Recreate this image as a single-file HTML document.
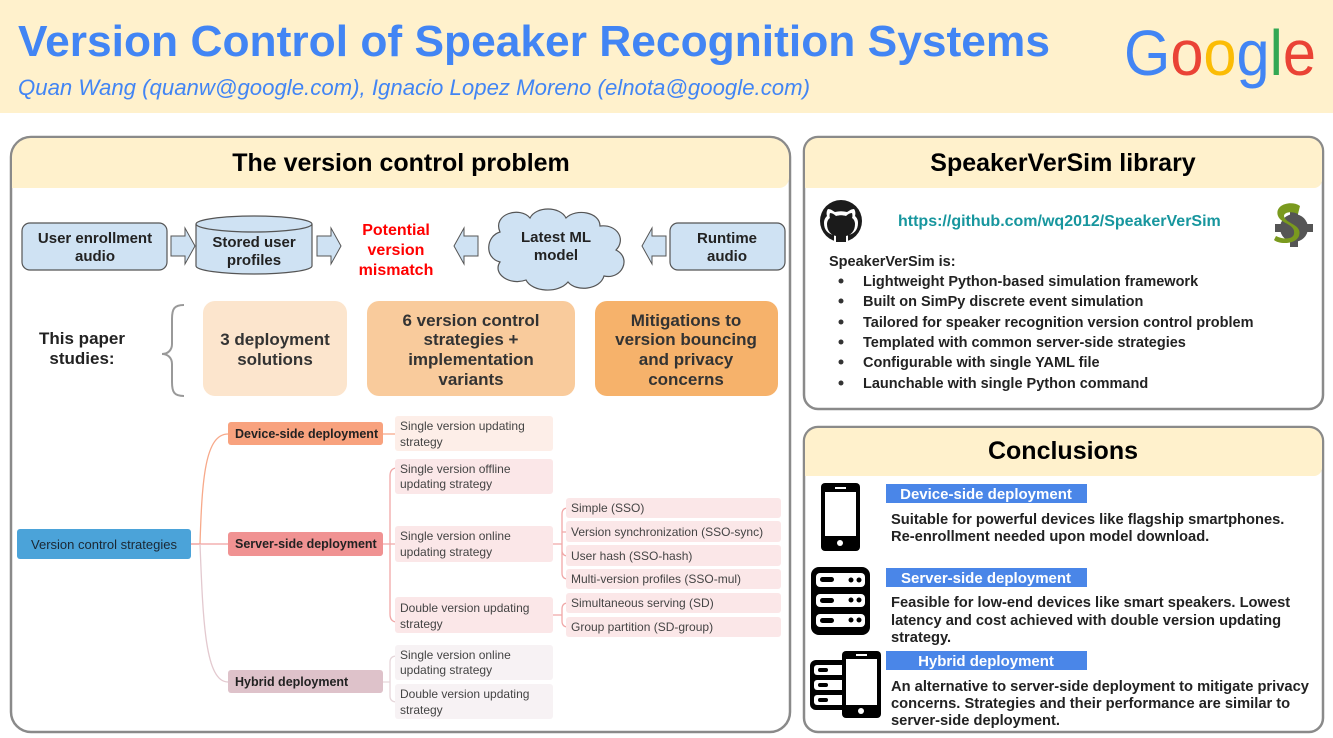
<!DOCTYPE html>
<html><head><meta charset="utf-8"><style>
html,body{margin:0;padding:0;background:#fff;width:1333px;height:738px;overflow:hidden}
svg{display:block}
text{font-family:"Liberation Sans",Arial,sans-serif}
.b{font-weight:bold}
</style></head><body>
<svg width="1333" height="738" viewBox="0 0 1333 738" xmlns="http://www.w3.org/2000/svg">
<!-- header -->
<rect x="0" y="0" width="1333" height="113" fill="#fff1cc"/>
<text x="18" y="56" class="b" font-size="44" fill="#4285f4" textLength="1032" lengthAdjust="spacingAndGlyphs">Version Control of Speaker Recognition Systems</text>
<text x="18" y="95" font-size="22" font-style="italic" fill="#4285f4" textLength="792" lengthAdjust="spacingAndGlyphs">Quan Wang (quanw@google.com), Ignacio Lopez Moreno (elnota@google.com)</text>
<text x="1124" y="75" font-size="64" textLength="192" lengthAdjust="spacingAndGlyphs"><tspan fill="#4285f4">G</tspan><tspan fill="#ea4335">o</tspan><tspan fill="#fbbc05">o</tspan><tspan fill="#4285f4">g</tspan><tspan fill="#34a853">l</tspan><tspan fill="#ea4335">e</tspan></text>

<!-- left panel -->
<rect x="11" y="137" width="779" height="595" rx="20" fill="#fff" stroke="#8a8a8a" stroke-width="2.5"/>
<path d="M12 188 V157 a19 19 0 0 1 19 -19 H770 a19 19 0 0 1 19 19 V178 a10 10 0 0 1 -10 10 Z" fill="#fff1cc"/>
<text x="401" y="171" class="b" font-size="25" text-anchor="middle">The version control problem</text>

<!-- flow row -->
<rect x="22" y="223" width="145" height="47" rx="8" fill="#cfe2f3" stroke="#555" stroke-width="1.2"/>
<text x="95" y="243" class="b" font-size="15" fill="#222" text-anchor="middle">User enrollment</text>
<text x="95" y="261" class="b" font-size="15" fill="#222" text-anchor="middle">audio</text>
<path d="M171 236 h14 v-8 l10 18 l-10 18 v-8 h-14 Z" fill="#cfe2f3" stroke="#555" stroke-width="1"/>
<path d="M196 224 V266 a58 8 0 0 0 116 0 V224" fill="#cfe2f3" stroke="#555" stroke-width="1.2"/>
<ellipse cx="254" cy="224" rx="58" ry="8" fill="#cfe2f3" stroke="#555" stroke-width="1.2"/>
<text x="254" y="247" class="b" font-size="15" fill="#222" text-anchor="middle">Stored user</text>
<text x="254" y="265" class="b" font-size="15" fill="#222" text-anchor="middle">profiles</text>
<path d="M317 236 h14 v-8 l10 18 l-10 18 v-8 h-14 Z" fill="#cfe2f3" stroke="#555" stroke-width="1"/>
<text x="396" y="235" class="b" font-size="16" fill="#ff0000" text-anchor="middle">Potential</text>
<text x="396" y="255" class="b" font-size="16" fill="#ff0000" text-anchor="middle">version</text>
<text x="396" y="275" class="b" font-size="16" fill="#ff0000" text-anchor="middle">mismatch</text>
<path d="M478 236 h-14 v-8 l-10 18 l10 18 v-8 h14 Z" fill="#cfe2f3" stroke="#555" stroke-width="1"/>
<path d="M500 232 c-8 -18 20 -26 30 -14 c6 -12 30 -12 36 0 c10 -10 34 -6 34 8 c18 -2 26 14 16 24 c16 8 6 30 -12 26 c-4 14 -28 16 -36 6 c-10 12 -36 10 -42 -2 c-16 6 -34 -6 -26 -18 c-16 -4 -14 -26 0 -30 Z" fill="#cfe2f3" stroke="#555" stroke-width="1.2"/>
<text x="556" y="242" class="b" font-size="15" fill="#222" text-anchor="middle">Latest ML</text>
<text x="556" y="260" class="b" font-size="15" fill="#222" text-anchor="middle">model</text>
<path d="M666 236 h-14 v-8 l-10 18 l10 18 v-8 h14 Z" fill="#cfe2f3" stroke="#555" stroke-width="1"/>
<rect x="670" y="223" width="115" height="47" rx="8" fill="#cfe2f3" stroke="#555" stroke-width="1.2"/>
<text x="727" y="243" class="b" font-size="15" fill="#222" text-anchor="middle">Runtime</text>
<text x="727" y="261" class="b" font-size="15" fill="#222" text-anchor="middle">audio</text>

<!-- paper studies -->
<text x="82" y="344" class="b" font-size="17" fill="#222" text-anchor="middle">This paper</text>
<text x="82" y="364" class="b" font-size="17" fill="#222" text-anchor="middle">studies:</text>
<path d="M184 305 c-10 0 -12 4 -12 14 v25 c0 6 -4 10 -10 10 c6 0 10 4 10 10 v18 c0 10 2 14 12 14" fill="none" stroke="#999" stroke-width="2"/>
<rect x="203" y="301" width="144" height="95" rx="12" fill="#fce5cd"/>
<text x="275" y="345" class="b" font-size="17" fill="#333" text-anchor="middle">3 deployment</text>
<text x="275" y="365" class="b" font-size="17" fill="#333" text-anchor="middle">solutions</text>
<rect x="367" y="301" width="208" height="95" rx="12" fill="#f9cb9c"/>
<text x="471" y="326" class="b" font-size="17" fill="#333" text-anchor="middle">6 version control</text>
<text x="471" y="345" class="b" font-size="17" fill="#333" text-anchor="middle">strategies +</text>
<text x="471" y="365" class="b" font-size="17" fill="#333" text-anchor="middle">implementation</text>
<text x="471" y="385" class="b" font-size="17" fill="#333" text-anchor="middle">variants</text>
<rect x="595" y="301" width="183" height="95" rx="12" fill="#f6b26b"/>
<text x="686" y="326" class="b" font-size="17" fill="#333" text-anchor="middle">Mitigations to</text>
<text x="686" y="345" class="b" font-size="17" fill="#333" text-anchor="middle">version bouncing</text>
<text x="686" y="365" class="b" font-size="17" fill="#333" text-anchor="middle">and privacy</text>
<text x="686" y="385" class="b" font-size="17" fill="#333" text-anchor="middle">concerns</text>

<!-- tree connectors -->
<g fill="none" stroke-width="1.3">
<path d="M191 544 H200 C202 480 205 434 228 434" stroke="#f7a98a"/>
<path d="M191 544 H228" stroke="#f0a0a0"/>
<path d="M200 544 C203 620 205 682 228 682" stroke="#e3c9cf"/>
<path d="M383 434 H395" stroke="#f7a98a"/>
<path d="M383 544 H390 M390 544 V476 Q390 468 397 468 M390 544 V614 Q390 622 397 622 M390 544 H395" stroke="#f0a8a8"/>
<path d="M383 682 H390 V662 Q390 656 397 656 M390 682 V696 Q390 702 397 702" stroke="#e6d6da"/>
<path d="M553 544 H562 M562 544 V514 Q562 508 568 508 M562 532 H566 M562 544 V550 Q562 556 568 556 M562 544 V573 Q562 579 568 579" stroke="#f0a8a8"/>
<path d="M553 615 H562 V609 Q562 603 568 603 M562 615 V621 Q562 627 568 627" stroke="#f0a8a8"/>
</g>
<!-- tree nodes -->
<rect x="17" y="529" width="174" height="30" rx="3" fill="#4ba3d9"/>
<text x="104" y="549" font-size="13" fill="#1b2733" text-anchor="middle">Version control strategies</text>
<rect x="228" y="422" width="155" height="23" rx="3" fill="#f8a27e"/>
<text x="235" y="438" class="b" font-size="12.5" fill="#222">Device-side deployment</text>
<rect x="228" y="532" width="155" height="24" rx="3" fill="#f09292"/>
<text x="235" y="548" class="b" font-size="12.5" fill="#222">Server-side deployment</text>
<rect x="228" y="670" width="155" height="23" rx="3" fill="#dec2ca"/>
<text x="235" y="686" class="b" font-size="12.5" fill="#222">Hybrid deployment</text>

<g font-size="12" fill="#444">
<rect x="395" y="416" width="158" height="35" rx="3" fill="#fdeee8"/>
<text x="400" y="430">Single version updating</text><text x="400" y="446">strategy</text>
<rect x="395" y="459" width="158" height="35" rx="3" fill="#fbe7e8"/>
<text x="400" y="473">Single version offline</text><text x="400" y="488">updating strategy</text>
<rect x="395" y="526" width="158" height="36" rx="3" fill="#fbe7e8"/>
<text x="400" y="540">Single version online</text><text x="400" y="556">updating strategy</text>
<rect x="395" y="597" width="158" height="36" rx="3" fill="#fbe7e8"/>
<text x="400" y="612">Double version updating</text><text x="400" y="628">strategy</text>
<rect x="395" y="645" width="158" height="35" rx="3" fill="#f7f2f4"/>
<text x="400" y="659">Single version online</text><text x="400" y="674">updating strategy</text>
<rect x="395" y="684" width="158" height="35" rx="3" fill="#f7f2f4"/>
<text x="400" y="698">Double version updating</text><text x="400" y="714">strategy</text>
<rect x="566" y="498" width="215" height="20" rx="3" fill="#fbe7e8"/><text x="571" y="512">Simple (SSO)</text>
<rect x="566" y="521" width="215" height="21" rx="3" fill="#fbe7e8"/><text x="571" y="536">Version synchronization (SSO-sync)</text>
<rect x="566" y="545" width="215" height="21" rx="3" fill="#fbe7e8"/><text x="571" y="560">User hash (SSO-hash)</text>
<rect x="566" y="569" width="215" height="20" rx="3" fill="#fbe7e8"/><text x="571" y="583">Multi-version profiles (SSO-mul)</text>
<rect x="566" y="593" width="215" height="20" rx="3" fill="#fbe7e8"/><text x="571" y="607">Simultaneous serving (SD)</text>
<rect x="566" y="617" width="215" height="20" rx="3" fill="#fbe7e8"/><text x="571" y="631">Group partition (SD-group)</text>
</g>

<!-- right top panel -->
<rect x="804" y="137" width="519" height="272" rx="14" fill="#fff" stroke="#8a8a8a" stroke-width="2.5"/>
<path d="M805 188 V151 a13 13 0 0 1 13 -13 H1309 a13 13 0 0 1 13 13 V180 a8 8 0 0 1 -8 8 Z" fill="#fff1cc"/>
<text x="1063" y="171" class="b" font-size="25" text-anchor="middle">SpeakerVerSim library</text>
<circle cx="841" cy="221" r="21" fill="#1b1b1b"/>
<path d="M834 242 v-7 c-6 -1 -10 -5 -10 -12 c0 -3 1 -5 3 -7 c-1 -3 0 -6 1 -7 c3 0 5 2 7 3 c4 -1 8 -1 12 0 c2 -1 4 -3 7 -3 c1 1 2 4 1 7 c2 2 3 4 3 7 c0 7 -4 11 -10 12 v7 Z" fill="#fff"/>
<path d="M836 242 v-6 c-5 -1 -9 -5 -9 -12 c0 -2 1 -5 3 -6 c-1 -2 0 -5 0 -5 c2 0 4 1 6 3 c4 -1 6 -1 10 0 c2 -2 4 -3 6 -3 c0 0 1 3 0 5 c2 1 3 4 3 6 c0 7 -4 11 -9 12 v6 Z" fill="#1b1b1b"/>
<text x="898" y="226" class="b" font-size="16" fill="#17969e">https://github.com/wq2012/SpeakerVerSim</text>
<circle cx="1294" cy="228" r="14" fill="#555"/>
<g fill="#555"><rect x="1290" y="209" width="8" height="38"/><rect x="1275" y="224" width="38" height="8"/></g>
<path d="M1300 206 c-8 -6 -26 -2 -22 10 c3 8 18 8 16 18 c-1 5 -10 6 -18 2 l-2 4 c6 5 22 4 25 -4 c4 -12 -14 -12 -15 -20 c0 -4 8 -5 14 -2 Z" fill="#7a9a1e"/>
<g font-size="14.5" fill="#222" font-weight="bold">
<text x="829" y="266">SpeakerVerSim is:</text>
<text x="863" y="286">Lightweight Python-based simulation framework</text>
<text x="863" y="306">Built on SimPy discrete event simulation</text>
<text x="863" y="327">Tailored for speaker recognition version control problem</text>
<text x="863" y="347">Templated with common server-side strategies</text>
<text x="863" y="367">Configurable with single YAML file</text>
<text x="863" y="388">Launchable with single Python command</text>
</g>
<g fill="#333"><circle cx="841" cy="281" r="2.5"/><circle cx="841" cy="301" r="2.5"/><circle cx="841" cy="322" r="2.5"/><circle cx="841" cy="342" r="2.5"/><circle cx="841" cy="362" r="2.5"/><circle cx="841" cy="383" r="2.5"/></g>

<!-- conclusions panel -->
<rect x="804" y="427" width="519" height="305" rx="14" fill="#fff" stroke="#8a8a8a" stroke-width="2.5"/>
<path d="M805 476 V441 a13 13 0 0 1 13 -13 H1309 a13 13 0 0 1 13 13 V468 a8 8 0 0 1 -8 8 Z" fill="#fff1cc"/>
<text x="1063" y="459" class="b" font-size="25" text-anchor="middle">Conclusions</text>

<rect x="886" y="484" width="201" height="19" fill="#4a86e8"/>
<text x="986" y="499" class="b" font-size="15" fill="#fff" text-anchor="middle">Device-side deployment</text>
<rect x="886" y="568" width="201" height="19" fill="#4a86e8"/>
<text x="986" y="583" class="b" font-size="15" fill="#fff" text-anchor="middle">Server-side deployment</text>
<rect x="886" y="651" width="201" height="19" fill="#4a86e8"/>
<text x="986" y="666" class="b" font-size="15" fill="#fff" text-anchor="middle">Hybrid deployment</text>
<g font-size="14.7" font-weight="bold" fill="#222">
<text x="891" y="524">Suitable for powerful devices like flagship smartphones.</text>
<text x="891" y="541">Re-enrollment needed upon model download.</text>
<text x="891" y="607">Feasible for low-end devices like smart speakers. Lowest</text>
<text x="891" y="625">latency and cost achieved with double version updating</text>
<text x="891" y="642">strategy.</text>
<text x="891" y="691">An alternative to server-side deployment to mitigate privacy</text>
<text x="891" y="708">concerns. Strategies and their performance are similar to</text>
<text x="891" y="725">server-side deployment.</text>
</g>
<!-- phone icon -->
<rect x="821" y="483" width="39" height="68" rx="4" fill="#000"/>
<rect x="825" y="492" width="31" height="44" fill="#fff"/>
<rect x="835" y="487" width="11" height="2" fill="#fff"/>
<circle cx="840" cy="543" r="3" fill="#fff"/>
<!-- server icon -->
<rect x="811" y="567" width="59" height="68" rx="8" fill="#000"/>
<rect x="816" y="573" width="49" height="14" rx="4" fill="#fff"/>
<rect x="816" y="594" width="49" height="13" rx="4" fill="#fff"/>
<rect x="816" y="614" width="49" height="13" rx="4" fill="#fff"/>
<g fill="#000"><rect x="820" y="577" width="14" height="5" rx="2.5"/><rect x="820" y="598" width="14" height="5" rx="2.5"/><rect x="820" y="618" width="14" height="5" rx="2.5"/>
<circle cx="851" cy="580" r="2.5"/><circle cx="859" cy="580" r="2.5"/><circle cx="851" cy="600" r="2.5"/><circle cx="859" cy="600" r="2.5"/><circle cx="851" cy="620" r="2.5"/><circle cx="859" cy="620" r="2.5"/></g>
<!-- hybrid icon -->
<rect x="810" y="660" width="40" height="50" rx="6" fill="#000"/>
<rect x="814" y="665" width="32" height="10" rx="3" fill="#fff"/>
<rect x="814" y="680" width="32" height="10" rx="3" fill="#fff"/>
<rect x="814" y="695" width="32" height="10" rx="3" fill="#fff"/>
<g fill="#000"><rect x="818" y="668" width="10" height="4" rx="2"/><rect x="818" y="683" width="10" height="4" rx="2"/><rect x="818" y="698" width="10" height="4" rx="2"/></g>
<rect x="842" y="651" width="39" height="67" rx="4" fill="#000"/>
<rect x="846" y="659" width="31" height="46" fill="#fff"/>
<rect x="856" y="654" width="11" height="2" fill="#fff"/>
<circle cx="861" cy="711" r="3" fill="#fff"/>
</svg>
</body></html>
